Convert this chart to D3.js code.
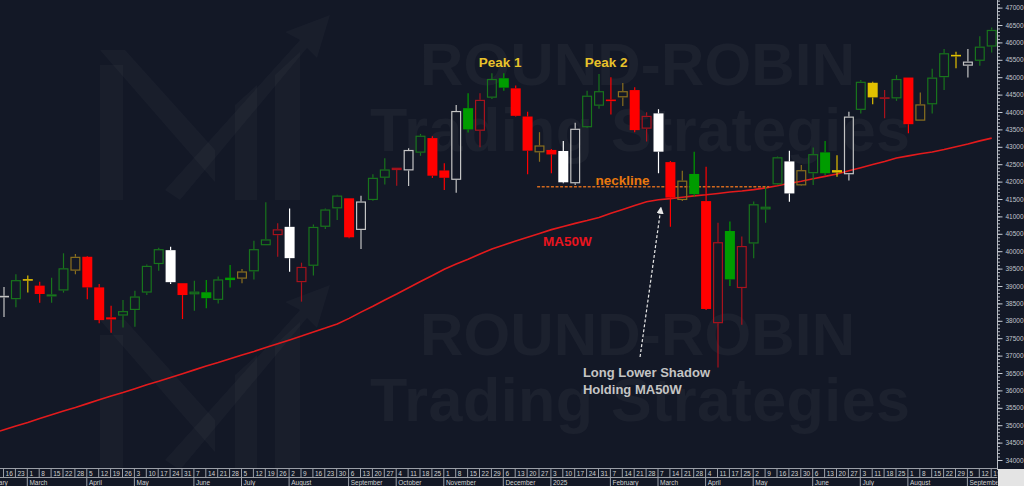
<!DOCTYPE html>
<html><head><meta charset="utf-8">
<script src="https://cdn.jsdelivr.net/npm/d3@7"></script>
<style>
html,body{margin:0;padding:0;background:#131826;}
svg{display:block;font-family:"Liberation Sans",Arial,sans-serif;}
</style></head><body>
<svg id="c" width="1024" height="486"></svg>
<script>
// ---------- DATA ----------
const weekDates = ["2024-02-16","2024-02-23","2024-03-01","2024-03-08","2024-03-15","2024-03-22","2024-03-28","2024-04-05","2024-04-12","2024-04-19","2024-04-26","2024-05-03","2024-05-10","2024-05-17","2024-05-24","2024-05-31","2024-06-07","2024-06-14","2024-06-21","2024-06-28","2024-07-05","2024-07-12","2024-07-19","2024-07-26","2024-08-02","2024-08-09","2024-08-16","2024-08-23","2024-08-30","2024-09-06","2024-09-13","2024-09-20","2024-09-27","2024-10-04","2024-10-11","2024-10-18","2024-10-25","2024-11-01","2024-11-08","2024-11-15","2024-11-22","2024-11-29","2024-12-06","2024-12-13","2024-12-20","2024-12-27","2025-01-03","2025-01-10","2025-01-17","2025-01-24","2025-01-31","2025-02-07","2025-02-14","2025-02-21","2025-02-28","2025-03-07","2025-03-14","2025-03-21","2025-03-28","2025-04-04","2025-04-11","2025-04-17","2025-04-25","2025-05-02","2025-05-09","2025-05-16","2025-05-23","2025-05-30","2025-06-06","2025-06-13","2025-06-20","2025-06-27","2025-07-03","2025-07-11","2025-07-18","2025-07-25","2025-08-01","2025-08-08","2025-08-15","2025-08-22","2025-08-29","2025-09-05","2025-09-12","2025-09-19"];

const openV  = [38700,38620,39180,39010,38700,38870,39440,39840,38960,38100,38150,38310,38810,39630,40030,39080,38760,38820,38600,39240,39210,39420,40170,40460,40700,39110,39580,40700,41230,41520,40610,41470,42110,42330,42320,42830,43250,42320,42050,44110,43460,44410,44970,44680,43870,42840,42910,42880,41950,43560,44180,44350,44420,44630,43520,43960,42560,41470,42220,41440,37930,40580,38940,40220,41200,41920,42580,41890,42240,42840,42330,42210,44060,44840,44410,44390,44990,43750,44220,45000,45630,45330,45470,45880];
const highV  = [38970,39340,39300,39120,39240,39940,39920,39860,39060,38430,38600,38860,39620,40100,40130,39080,39150,39170,39270,39600,39490,40300,41410,40800,41230,39670,40770,41230,41620,41520,41590,42210,42670,42400,42960,43370,43300,42530,44200,44540,44540,45110,45110,44760,44010,43420,42940,43170,43690,44610,45090,45000,44830,44710,43990,44080,42590,42310,42860,42430,40820,40850,40420,41430,41850,42720,42890,42480,42980,43170,42760,44010,44920,44870,44630,45060,44990,44560,45240,45810,45730,45810,46180,46430];
const lowV   = [38110,38390,38810,38520,38520,38810,39340,38620,37930,37660,37810,37830,38740,39440,39060,38050,38290,38360,38500,38960,39080,39190,40170,39840,39410,38550,39300,40640,40900,40370,40060,41450,41920,41880,41870,42740,42100,41760,41680,43410,42990,44370,44610,43870,42210,42570,42240,41950,41900,43540,44090,43930,44170,43420,43150,42240,40700,41440,41570,38310,36660,39000,37890,39800,40820,41900,41420,41870,41900,42190,42140,42030,43960,44220,43820,44320,43390,43750,43960,44630,45260,44990,45330,45710];
const closeV = [38690,39170,39170,38770,38760,39510,39840,38960,38020,38040,38280,38700,39580,40060,39110,38740,38840,38650,39190,39170,39420,40060,40340,40630,39800,39550,40700,41200,41600,40400,41430,42110,42350,42400,42910,43320,42170,42110,44030,43500,44350,44950,44700,43890,42890,43040,42780,41980,43520,44470,44600,44320,44600,43480,43890,42860,41540,42030,41640,38340,40260,39190,40150,41350,41280,42700,41660,42330,42790,42240,42260,43870,44870,44420,44390,44950,43650,44220,44990,45690,45610,45450,45880,46360];
// candle colour class as drawn by the charting package
const candleStyle = ["wh","gh","yf","rf","gh","gh","yh","rf","rf","rf","gh","gh","gh","gh","wf","rf","gh","gf","gh","gf","yh","gh","gh","rh","wf","rh","gh","gh","gh","rf","wh","gh","gh","rh","wh","gh","rf","rf","wh","gf","rh","gh","gf","rf","rf","yh","rf","wf","wh","gh","gh","rf","yh","rf","rh","wf","rf","yh","gf","rf","rh","gf","rh","gh","gh","gh","wf","yh","gh","gf","yf","wh","gh","yf","rh","gh","rf","yh","gh","gh","yf","wh","gh","gh"];
// 50-week moving average, first value = week before the first candle (2024-02-09)
const ma50 = [34760,34870,34980,35080,35190,35300,35410,35510,35620,35730,35840,35940,36050,36160,36260,36370,36480,36590,36700,36800,36910,37020,37120,37230,37340,37450,37560,37680,37790,37910,38070,38250,38420,38600,38770,38950,39130,39300,39480,39630,39770,39920,40060,40180,40290,40400,40510,40620,40710,40800,40880,40970,41090,41200,41310,41420,41480,41510,41550,41590,41620,41660,41700,41730,41770,41820,41880,41950,42010,42080,42150,42220,42310,42400,42490,42580,42680,42740,42800,42850,42920,43000,43080,43170,43250];
const necklineValue = 41850;
const yTickValues = d3.range(34000, 47001, 500);
const monthNames = ["January","February","March","April","May","June","July","August","September","October","November","December"];

// ---------- SETUP ----------
const W = 1024, H = 486;
const svg = d3.select("#c");
svg.append("rect").attr("width", W).attr("height", H).attr("fill", "#131826");

const x = d3.scaleLinear().domain([0, 83]).range([4, 991.7]);
const y = d3.scaleLinear().domain([34000, 47000]).range([460, 7.6]);

svg.append("defs").append("clipPath").attr("id", "plotClip")
  .append("rect").attr("x", 0).attr("y", 0).attr("width", 997).attr("height", 468);
svg.select("defs").append("clipPath").attr("id", "axClip")
  .append("rect").attr("x", 0).attr("y", 460).attr("width", 997.5).attr("height", 30);
svg.select("defs").append("marker").attr("id", "arrowHead")
  .attr("viewBox", "0 0 10 10").attr("refX", 8).attr("refY", 5)
  .attr("markerWidth", 6).attr("markerHeight", 6).attr("orient", "auto")
  .append("path").attr("d", "M0,0 L10,5 L0,10 z").attr("fill", "#e8e8e8");

// ---------- WATERMARK ----------
const wm = svg.append("g").attr("clip-path", "url(#plotClip)");
[0, 270].forEach(dy => {
  const g = wm.append("g").attr("transform", `translate(0,${dy})`)
    .attr("fill", "#ffffff");
  g.append("text").attr("x", 420).attr("y", 85).attr("font-size", 60).attr("font-weight", "bold")
    .attr("fill-opacity", 0.038).attr("textLength", 435).text("ROUND-ROBIN");
  g.append("text").attr("x", 370).attr("y", 151).attr("font-size", 61).attr("font-weight", "bold")
    .attr("fill-opacity", 0.038).attr("textLength", 540).text("Trading Strategies");
  const lg = g.append("g").attr("transform", "translate(95,10)").attr("fill-opacity", 0.028);
  lg.append("path").attr("d", "M5,55 L28,55 L28,190 L5,190 Z");
  lg.append("path").attr("d", "M5,40 L30,40 L120,140 L120,172 Z");
  lg.append("path").attr("d", "M140,95 L162,75 L162,190 L140,190 Z");
  lg.append("path").attr("d", "M180,65 L205,42 L205,190 L180,190 Z");
  lg.append("path").attr("d", "M70,180 L205,30 L190,22 L235,5 L222,48 L212,38 L85,190 Z");
});

// ---------- MA50W ----------
const plot = svg.append("g").attr("clip-path", "url(#plotClip)");
plot.append("path")
  .datum(ma50)
  .attr("fill", "none").attr("stroke", "#e31a1c").attr("stroke-width", 1.6)
  .attr("d", d3.line().x((d, i) => x(i - 1)).y(d => y(d)));

// ---------- NECKLINE ----------
plot.append("line")
  .attr("x1", x(44.8)).attr("x2", x(64.3))
  .attr("y1", y(necklineValue)).attr("y2", y(necklineValue))
  .attr("stroke", "#d2691e").attr("stroke-width", 1.4).attr("stroke-dasharray", "3,1.6");

// ---------- CANDLES ----------
const styleMap = {
  gh: {c: "#18741c", fill: false}, gf: {c: "#009c00", fill: true},
  rf: {c: "#ff0000", fill: true},  rh: {c: "#a8121c", fill: false},
  wf: {c: "#ffffff", fill: true},  wh: {c: "#c4c4c4", fill: false},
  yf: {c: "#e2c000", fill: true},  yh: {c: "#8a6f1e", fill: false}
};
const candles = weekDates.map((d, i) => ({i, o: openV[i], h: highV[i], l: lowV[i], c: closeV[i], s: styleMap[candleStyle[i]]}));
const bw = 10;
const cg = plot.selectAll("g.candle").data(candles).join("g").attr("class", "candle");
cg.each(function(d) {
  const g = d3.select(this);
  const cx = x(d.i);
  let top = y(Math.max(d.o, d.c)), bot = y(Math.min(d.o, d.c));
  if (bot - top < 1.6) { const m = (top + bot) / 2; top = m - 0.8; bot = m + 0.8; }
  g.append("line").attr("x1", cx).attr("x2", cx).attr("y1", y(d.h)).attr("y2", top)
    .attr("stroke", d.s.c).attr("stroke-width", 1.2);
  g.append("line").attr("x1", cx).attr("x2", cx).attr("y1", bot).attr("y2", y(d.l))
    .attr("stroke", d.s.c).attr("stroke-width", 1.2);
  if (d.s.fill) {
    g.append("rect").attr("x", cx - bw / 2).attr("y", top).attr("width", bw).attr("height", bot - top)
      .attr("fill", d.s.c);
  } else {
    g.append("rect").attr("x", cx - bw / 2 + 0.6).attr("y", top + 0.6).attr("width", bw - 1.2)
      .attr("height", Math.max(0.4, bot - top - 1.2))
      .attr("fill", "none").attr("stroke", d.s.c).attr("stroke-width", 1.2);
  }
});

// ---------- ANNOTATIONS ----------
const ann = svg.append("g").attr("font-weight", "bold");
ann.append("text").attr("x", x(41.7)).attr("y", y(45290)).attr("text-anchor", "middle")
  .attr("font-size", 13.5).attr("fill", "#e8c22a").text("Peak 1");
ann.append("text").attr("x", x(50.6)).attr("y", y(45290)).attr("text-anchor", "middle")
  .attr("font-size", 13.5).attr("fill", "#e8c22a").text("Peak 2");
ann.append("text").attr("x", x(49.7)).attr("y", y(41890))
  .attr("font-size", 13.5).attr("fill", "#e8780e").text("neckline");
ann.append("text").attr("x", x(45.3)).attr("y", y(40150))
  .attr("font-size", 13.5).attr("fill", "#e8141e").text("MA50W");
ann.append("text").attr("x", x(48.65)).attr("y", y(36390))
  .attr("font-size", 13).attr("fill", "#c4c4c4").text("Long Lower Shadow");
ann.append("text").attr("x", x(48.65)).attr("y", y(35900))
  .attr("font-size", 13).attr("fill", "#c4c4c4").text("Holding MA50W");
svg.append("line")
  .attr("x1", x(53.45)).attr("y1", y(36960)).attr("x2", x(55.2)).attr("y2", y(41240))
  .attr("stroke", "#e8e8e8").attr("stroke-width", 1.2).attr("stroke-dasharray", "3,2")
  .attr("marker-end", "url(#arrowHead)");

// ---------- RIGHT AXIS ----------
svg.append("line").attr("x1", 997.5).attr("x2", 997.5).attr("y1", 0).attr("y2", 470)
  .attr("stroke", "#b8bcc4").attr("stroke-width", 1);
const minor = svg.append("g").attr("transform", "translate(997.5,0)")
  .call(d3.axisRight(y).tickValues(d3.range(34000, 47201, 100)).tickSize(2.5).tickFormat(""));
minor.select(".domain").remove();
minor.selectAll("line").attr("stroke", "#b8bcc4");
const major = svg.append("g").attr("transform", "translate(997.5,0)")
  .call(d3.axisRight(y).tickValues(yTickValues).tickSize(5).tickPadding(3).tickFormat(d3.format("d")));
major.select(".domain").remove();
major.selectAll("line").attr("stroke", "#c8ccd4");
major.selectAll("text").attr("fill", "#c0c4cc").attr("font-size", 6.5)
  .attr("font-family", "Liberation Sans, Arial, sans-serif");

// ---------- BOTTOM AXIS ----------
const bx = svg.append("g").attr("clip-path", "url(#axClip)");
const lineCol = "#9a9ea6", txtCol = "#d0d0d0";
bx.append("line").attr("x1", 0).attr("x2", 997.5).attr("y1", 468.5).attr("y2", 468.5).attr("stroke", lineCol);
bx.append("line").attr("x1", 0).attr("x2", 997.5).attr("y1", 477.5).attr("y2", 477.5).attr("stroke", lineCol);
const parse = d3.timeParse("%Y-%m-%d");
const wk = weekDates.map((s, i) => ({i, d: parse(s)}));
bx.selectAll("line.day").data(wk).join("line").attr("class", "day")
  .attr("x1", d => x(d.i) - 0.5).attr("x2", d => x(d.i) - 0.5)
  .attr("y1", 468.5).attr("y2", 477.5).attr("stroke", lineCol);
bx.selectAll("text.day").data(wk).join("text").attr("class", "day")
  .attr("x", d => x(d.i) + 1.6).attr("y", 475.6)
  .attr("font-size", 6.5).attr("fill", txtCol).text(d => d.d.getDate());
// month starts (including February 2024 whose first weeks are off-screen)
const months = [{i: -2, d: parse("2024-02-02")}].concat(
  wk.filter((d, k) => k === 0 ? false : d.d.getMonth() !== wk[k - 1].d.getMonth()));
bx.selectAll("line.mon").data(months).join("line").attr("class", "mon")
  .attr("x1", d => x(d.i) - 0.5).attr("x2", d => x(d.i) - 0.5)
  .attr("y1", 477.5).attr("y2", 486).attr("stroke", lineCol);
bx.selectAll("text.mon").data(months).join("text").attr("class", "mon")
  .attr("x", d => x(d.i) + 1.6).attr("y", 484.6)
  .attr("font-size", 6.5).attr("fill", txtCol)
  .text(d => d.d.getMonth() === 0 ? d.d.getFullYear() : monthNames[d.d.getMonth()]);
svg.append("rect").attr("x", 998).attr("y", 469).attr("width", 26).attr("height", 17).attr("fill", "#e4e4e4");
</script>
</body></html>
